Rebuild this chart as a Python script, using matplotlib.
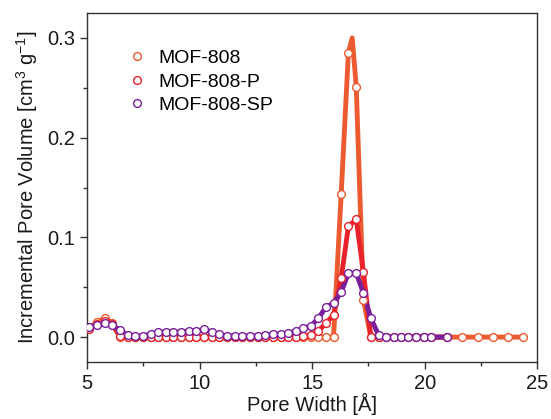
import matplotlib
matplotlib.use('Agg')
import matplotlib.pyplot as plt
from matplotlib.ticker import MultipleLocator

plt.rcParams['font.family'] = ['Liberation Sans', 'DejaVu Sans']
plt.rcParams['mathtext.fontset'] = 'custom'
plt.rcParams['mathtext.rm'] = 'Liberation Sans'
plt.rcParams['mathtext.it'] = 'Liberation Sans'

# pore width grid (Angstrom) shared by the three samples up to 21 A
pore_width = [5.10, 5.44, 5.78, 6.12, 6.46, 6.80, 7.14, 7.48, 7.82, 8.16,
              8.50, 8.84, 9.18, 9.52, 9.86, 10.20, 10.54, 10.88, 11.22, 11.56,
              11.90, 12.24, 12.58, 12.92, 13.26, 13.60, 13.94, 14.27, 14.60, 14.94,
              15.28, 15.61, 15.95, 16.29, 16.61, 16.96, 17.28, 17.61, 17.95, 18.28,
              18.62, 18.95, 19.28, 19.62, 19.95, 20.28, 21.00]

mof808_sp = [0.010, 0.012, 0.014, 0.012, 0.007, 0.002, 0.001, 0.001, 0.003, 0.005,
             0.005, 0.005, 0.005, 0.006, 0.006, 0.008, 0.005, 0.003, 0.001, 0.001,
             0.001, 0.001, 0.001, 0.002, 0.003, 0.003, 0.004, 0.006, 0.009, 0.011,
             0.019, 0.030, 0.034, 0.045, 0.064, 0.064, 0.044, 0.019, 0.002, 0.000,
             0.000, 0.000, 0.000, 0.000, 0.000, 0.000, 0.000]

mof808_p = [0.008, 0.013, 0.016, 0.013, 0.001, 0.000, 0.000, 0.000, 0.000, 0.000,
            0.000, 0.000, 0.000, 0.000, 0.000, 0.000, 0.000, 0.000, 0.000, 0.000,
            0.000, 0.000, 0.000, 0.000, 0.000, 0.000, 0.000, 0.000, 0.001, 0.002,
            0.006, 0.014, 0.022, 0.059, 0.111, 0.118, 0.065, 0.000, 0.000, 0.000,
            0.000, 0.000, 0.000, 0.000, 0.000, 0.000, 0.000]

# MOF-808 has an unmarked apex point at 16.78 and a longer tail
mof808_x = pore_width[:35] + [16.78] + pore_width[35:] + [21.68, 22.35, 23.03, 23.71, 24.39]
mof808 = [0.009, 0.015, 0.019, 0.014, 0.000, 0.000, 0.000, 0.000, 0.000, 0.000,
          0.000, 0.000, 0.000, 0.000, 0.000, 0.000, 0.000, 0.000, 0.000, 0.000,
          0.000, 0.000, 0.000, 0.000, 0.000, 0.000, 0.000, 0.000, 0.000, 0.000,
          0.000, 0.000, 0.000, 0.143, 0.285, 0.300, 0.251, 0.037, 0.000, 0.000,
          0.000, 0.000, 0.000, 0.000, 0.000, 0.000, 0.000, 0.000,
          0.000, 0.000, 0.000, 0.000, 0.000]

labels = ['MOF-808', 'MOF-808-P', 'MOF-808-SP']
colors = ['#EC5A30', '#E8222A', '#7A1F9C']

fig = plt.figure(figsize=(5.51, 4.19), dpi=100)
ax = fig.add_axes([0.158, 0.136, 0.817, 0.833])

marks808 = [i for i in range(len(mof808_x)) if i != 35]
series = [(mof808_x, mof808, marks808),
          (pore_width, mof808_p, None),
          (pore_width, mof808_sp, None)]

for (xs, ys, mk), lab, c in zip(series, labels, colors):
    ax.plot(xs, ys, color=c, lw=3.5, solid_joinstyle='round', zorder=2)
    ax.plot(xs, ys, ls='none', marker='o', ms=5.6, mfc='white', mec=c,
            mew=1.0, markevery=mk, zorder=3, label=lab)

ax.set_xlim(5, 25)
ax.set_ylim(-0.025, 0.325)
ax.xaxis.set_major_locator(MultipleLocator(5))
ax.xaxis.set_minor_locator(MultipleLocator(2.5))
ax.yaxis.set_major_locator(MultipleLocator(0.1))
ax.yaxis.set_minor_locator(MultipleLocator(0.05))
ax.yaxis.set_major_formatter(plt.FormatStrFormatter('%.1f'))

ax.tick_params(which='both', direction='out', colors='#333333', labelcolor='#1a1a1a',
               labelsize=14.5, width=1)
ax.tick_params(which='major', length=5)
ax.tick_params(which='minor', length=3)
for s in ax.spines.values():
    s.set_color('#333333')
    s.set_linewidth(1)

ax.set_xlabel('Pore Width [Å]', fontsize=14.5, color='#1a1a1a', labelpad=0)
ax.set_ylabel(r'Incremental Pore Volume [cm$^3$ g$^{-1}$]', fontsize=14.5,
              color='#1a1a1a', labelpad=5)

ax.legend(loc='upper left', bbox_to_anchor=(0.09, 0.895), frameon=False,
          fontsize=14, handlelength=1.0, handletextpad=0.6, labelspacing=0.3,
          borderaxespad=0, borderpad=0)

fig.savefig('out.png', dpi=100)
